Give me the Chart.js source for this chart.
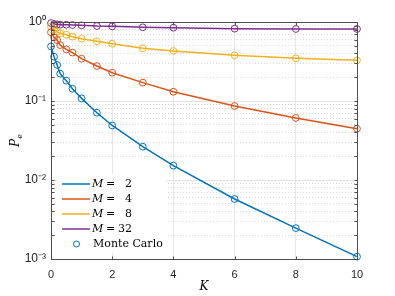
<!DOCTYPE html>
<html>
<head>
<meta charset="utf-8">
<script src="https://cdn.jsdelivr.net/npm/chart.js@4.4.1/dist/chart.umd.min.js"></script>
<style>
  html, body { margin: 0; padding: 0; background: #fff; }
  #wrap { width: 395px; height: 296px; }
</style>
</head>
<body>
<div id="wrap"><canvas id="chart"></canvas></div>
<script>
// K values where the curves are evaluated (and Monte Carlo circles placed)
const kValues = [0, 0.1, 0.2, 0.3, 0.5, 0.7, 1, 1.5, 2, 3, 4, 6, 8, 10];
const mLabels = ["2", "4", "8", "32"];
const peM2 = [0.49, 0.364, 0.286, 0.222, 0.181, 0.143, 0.108, 0.0711, 0.049, 0.0264, 0.0152, 0.00575, 0.00246, 0.00107];
const peM4 = [0.741, 0.64, 0.59, 0.51, 0.45, 0.41, 0.343, 0.277, 0.228, 0.171, 0.131, 0.0865, 0.061, 0.0446];
const peM8 = [0.875, 0.809, 0.754, 0.719, 0.69, 0.652, 0.615, 0.57, 0.531, 0.465, 0.43, 0.379, 0.347, 0.327];
const peM32 = [0.969, 0.943, 0.935, 0.924, 0.924, 0.916, 0.908, 0.89, 0.882, 0.857, 0.847, 0.823, 0.816, 0.816];
const xTickValues = [0, 2, 4, 6, 8, 10];
const yDecades = [0.001, 0.01, 0.1, 1];
const yDecadeLabels = ["10⁻³", "10⁻²", "10⁻¹", "10⁰"];
const mcLabel = "Monte Carlo";

const colors = ["#0072BD", "#D95319", "#EDB120", "#7E2F8E"];
const series = [peM2, peM4, peM8, peM32];

const isDecade = v => Math.abs(Math.log10(v) - Math.round(Math.log10(v))) < 1e-9;

const datasets = series.map((vals, i) => ({
  label: "M = " + mLabels[i],
  data: kValues.map((k, j) => ({ x: k, y: vals[j] })),
  borderColor: colors[i],
  backgroundColor: "rgba(0,0,0,0)",
  borderWidth: 1.5,
  pointRadius: 3.4,
  pointBorderWidth: 1,
  pointBorderColor: colors[i],
  pointBackgroundColor: "rgba(0,0,0,0)",
  tension: 0,
  clip: false
}));

// legend drawn inside the axes, MATLAB style
const insideLegend = {
  id: "insideLegend",
  afterDatasetsDraw(chart) {
    const ctx = chart.ctx;
    ctx.save();
    ctx.fillStyle = "#fff";
    ctx.fillRect(57, 174, 109, 79);
    const rowY = [184, 199, 214, 229, 244];
    ctx.textBaseline = "middle";
    mLabels.forEach((m, i) => {
      const y = rowY[i];
      ctx.strokeStyle = colors[i];
      ctx.lineWidth = 1.5;
      ctx.beginPath();
      ctx.moveTo(62, y);
      ctx.lineTo(90, y);
      ctx.stroke();
      ctx.fillStyle = "#000";
      ctx.textAlign = "left";
      ctx.font = "italic 11px 'DejaVu Serif'";
      ctx.fillText("M", 92, y);
      ctx.font = "11px 'DejaVu Serif'";
      ctx.fillText("=", 106, y);
      ctx.textAlign = "right";
      ctx.fillText(m, 132, y);
    });
    const y = rowY[4];
    ctx.strokeStyle = colors[0];
    ctx.lineWidth = 1;
    ctx.beginPath();
    ctx.arc(76.5, y, 3, 0, Math.PI * 2);
    ctx.stroke();
    ctx.fillStyle = "#000";
    ctx.textAlign = "left";
    ctx.font = "11px 'DejaVu Serif'";
    ctx.fillText(mcLabel, 93, y);
    ctx.restore();
  },
  afterDraw(chart) {
    const { ctx, chartArea: a, scales: { x, y } } = chart;
    ctx.save();
    const L = Math.round(a.left) + 0.5, R = Math.round(a.right) + 0.5;
    const T = Math.round(a.top) + 0.5, B = Math.round(a.bottom) + 0.5;
    ctx.strokeStyle = "#4d4d4d";
    ctx.lineWidth = 1;
    ctx.strokeRect(L, T, R - L, B - T);
    ctx.beginPath();
    x.ticks.forEach(t => {
      const px = Math.round(x.getPixelForValue(t.value)) + 0.5;
      ctx.moveTo(px, B); ctx.lineTo(px, B - 3);
      ctx.moveTo(px, T); ctx.lineTo(px, T + 3);
    });
    y.ticks.forEach(t => {
      const py = Math.round(y.getPixelForValue(t.value)) + 0.5;
      ctx.moveTo(L, py); ctx.lineTo(L + 3, py);
      ctx.moveTo(R, py); ctx.lineTo(R - 3, py);
    });
    ctx.stroke();

    // y axis label P_e
    ctx.translate(15, (a.top + a.bottom) / 2);
    ctx.rotate(-Math.PI / 2);
    ctx.fillStyle = "#000";
    ctx.textBaseline = "alphabetic";
    ctx.font = "italic 12px 'DejaVu Serif'";
    const wP = ctx.measureText("P").width;
    ctx.font = "italic 8px 'DejaVu Serif'";
    const wE = ctx.measureText("e").width;
    const x0 = -(wP + wE) / 2;
    ctx.font = "italic 12px 'DejaVu Serif'";
    ctx.textAlign = "left";
    ctx.fillText("P", x0, 4);
    ctx.font = "italic 8px 'DejaVu Serif'";
    ctx.fillText("e", x0 + wP, 6.5);
    ctx.restore();
  }
};

new Chart(document.getElementById("chart"), {
  type: "line",
  data: { datasets },
  options: {
    responsive: true,
    maintainAspectRatio: false,
    animation: false,
    layout: { padding: { left: 0, right: 38, top: 22, bottom: 0 } },
    plugins: { legend: { display: false }, tooltip: { enabled: false } },
    scales: {
      x: {
        type: "linear",
        min: 0,
        max: 10,
        afterBuildTicks: s => { s.ticks = xTickValues.map(v => ({ value: v })); },
        afterFit: s => { s.height = 37; },
        grid: { color: "#e6e6e6", lineWidth: 1, drawTicks: false },
        border: { display: false },
        ticks: {
          padding: 9,
          color: "#262626",
          font: { family: "'Liberation Sans', Arial", size: 11 }
        },
        title: {
          display: true,
          text: "K",
          color: "#000",
          padding: { top: 0, bottom: 2 },
          font: { family: "'DejaVu Serif'", style: "italic", size: 12 }
        }
      },
      y: {
        type: "logarithmic",
        min: 0.001,
        max: 1,
        afterBuildTicks: s => {
          const t = [];
          for (let e = -3; e < 0; e++) {
            for (let m = 1; m < 10; m++) t.push({ value: m * Math.pow(10, e) });
          }
          t.push({ value: 1 });
          s.ticks = t;
        },
        afterFit: s => { s.width = 51; },
        grid: {
          drawTicks: false,
          lineWidth: 1,
          color: c => (c.tick && isDecade(c.tick.value)) ? "#e3e3e3" : "#d9d9d9"
        },
        border: {
          display: false,
          dash: c => (c.tick && isDecade(c.tick.value)) ? [] : [1, 2]
        },
        ticks: {
          autoSkip: false,
          padding: 5,
          color: "#262626",
          font: { family: "'Liberation Sans', Arial", size: 12 },
          callback: v => {
            const i = yDecades.findIndex(d => Math.abs(d - v) < d * 1e-6);
            return i >= 0 ? yDecadeLabels[i] : "";
          }
        }
      }
    }
  },
  plugins: [insideLegend]
});
</script>
</body>
</html>
